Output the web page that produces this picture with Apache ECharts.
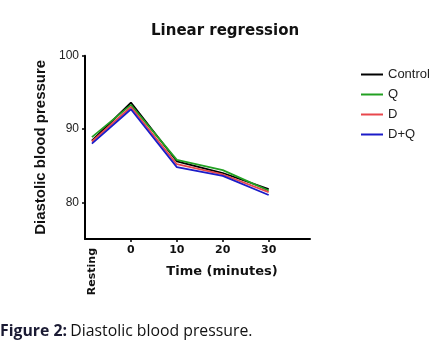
<!DOCTYPE html>
<html><head><meta charset="utf-8">
<script src="https://cdn.jsdelivr.net/npm/echarts@6/dist/echarts.min.js"></script>
<style>html,body{margin:0;padding:0;background:#fff}#c{width:440px;height:345px}</style>
</head><body><div id="c"></div>
<script>
const timePoints = [-8.5, 0, 10, 20, 30];
const xTickValues = [0, 10, 20, 30];
const restingTick = [-8.5];
const yTicks = [80, 90, 100];
const seriesNames = ['Control', 'Q', 'D', 'D+Q'];
const control = [88.4, 93.6, 85.6, 84.0, 81.8];
const q = [88.9, 93.3, 85.8, 84.4, 81.6];
const d = [88.3, 93.0, 85.2, 83.8, 81.4];
const dq = [88.0, 92.7, 84.8, 83.6, 81.0];
const colors = ['#000000', '#22a022', '#e8474c', '#1b1bc8'];

const chart = echarts.init(document.getElementById('c'));
const vals = [control, q, d, dq];
const font = 'Arial, "Liberation Sans", sans-serif';
const wide = '"DejaVu Sans", sans-serif';
chart.setOption({
  animation: false,
  title: {text: 'Linear regression', left: 146, top: 19,
    textStyle: {fontFamily: wide, fontSize: 15, fontWeight: 'bold', color: '#111'}},
  legend: {orient: 'vertical', left: 356, top: 63, itemGap: 7, itemWidth: 22, itemHeight: 12,
    icon: 'path://M0,6 L22,6 L22,8 L0,8 Z',
    textStyle: {fontFamily: font, fontSize: 13, color: '#222'},
    data: seriesNames},
  grid: {left: 85, right: 130, top: 55.7, bottom: 106},
  xAxis: [{
    type: 'value', min: -10, max: 39,
    name: 'Time (minutes)', nameLocation: 'middle', nameGap: 26,
    nameTextStyle: {fontFamily: wide, fontSize: 13, fontWeight: 'bold', color: '#111', padding: [0, 0, 0, 49]},
    axisLine: {onZero: false, lineStyle: {color: '#000', width: 2}},
    axisTick: {show: true, length: 3, lineStyle: {color: '#000', width: 1.5}, customValues: xTickValues},
    axisLabel: {customValues: xTickValues, fontFamily: wide, fontSize: 11, fontWeight: 'bold', color: '#111', margin: 6},
    splitLine: {show: false}
  }, {
    type: 'value', min: -10, max: 39, position: 'bottom',
    axisLine: {show: false, onZero: false}, axisTick: {show: false}, splitLine: {show: false},
    axisLabel: {customValues: restingTick, rotate: 90, formatter: () => 'Resting',
      fontFamily: wide, fontSize: 11, fontWeight: 'bold', color: '#111', margin: 9}
  }],
  yAxis: {
    type: 'value', min: 75, max: 100,
    name: 'Diastolic blood pressure', nameLocation: 'middle', nameGap: 35,
    nameTextStyle: {fontFamily: font, fontSize: 15, fontWeight: 'bold', color: '#111'},
    axisLine: {show: true, onZero: false, lineStyle: {color: '#000', width: 2}},
    axisTick: {show: true, length: 3, lineStyle: {color: '#000', width: 1.5}, customValues: yTicks},
    axisLabel: {customValues: yTicks, fontFamily: font, fontSize: 12, color: '#222', margin: 6},
    splitLine: {show: false}
  },
  graphic: [{type: 'text', left: 0, top: 323, style: {
    rich: {b: {fontFamily: '"Open Sans", sans-serif', fontWeight: 'bold', fontSize: 15.8, fill: '#1a1a33'},
           n: {fontFamily: '"Open Sans", sans-serif', fontSize: 15.8, fill: '#111'}},
    text: '{b|Figure 2:} {n|Diastolic blood pressure.}'}}],
  series: seriesNames.map((n, i) => ({
    name: n, type: 'line', symbol: 'none', xAxisIndex: 0,
    lineStyle: {color: colors[i], width: 1.8}, itemStyle: {color: colors[i]},
    data: timePoints.map((t, j) => [t, vals[i][j]])
  }))
});
</script></body></html>
